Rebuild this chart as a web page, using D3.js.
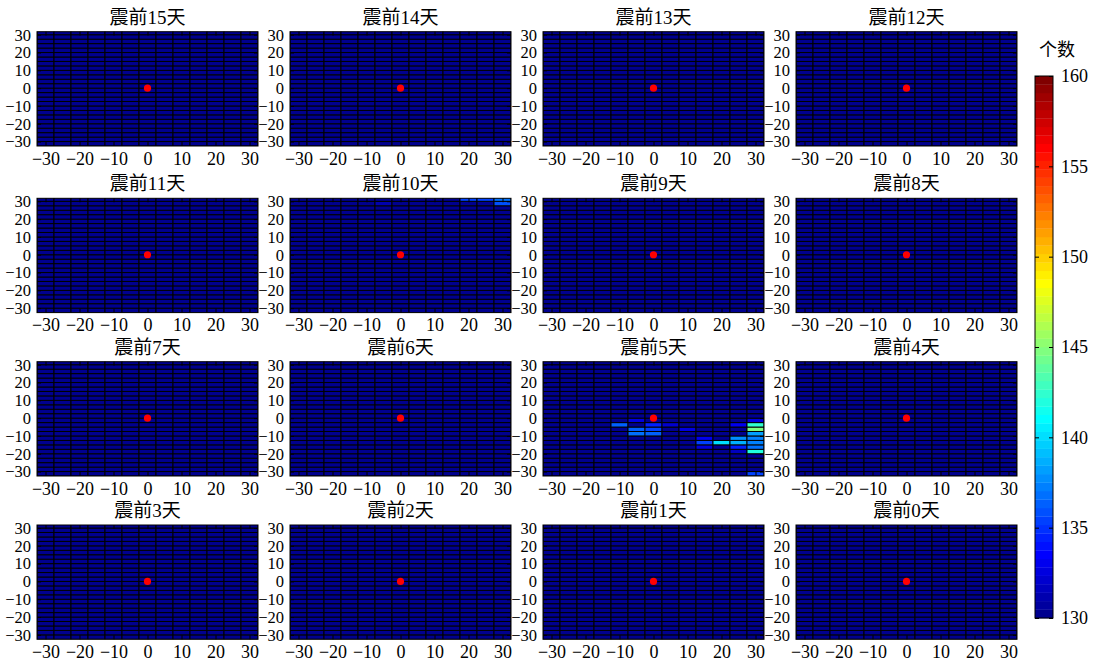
<!DOCTYPE html>
<html>
<head>
<meta charset="utf-8">
<script src="https://cdn.jsdelivr.net/npm/d3@7"></script>
<style>
  html, body { margin: 0; padding: 0; background: #fff; }
  svg { display: block; }
</style>
</head>
<body>
<svg id="chart" width="1099" height="663"></svg>
<script>
// ---------------- data ----------------
const panelTitles = ["震前15天","震前14天","震前13天","震前12天",
                     "震前11天","震前10天","震前9天","震前8天",
                     "震前7天","震前6天","震前5天","震前4天",
                     "震前3天","震前2天","震前1天","震前0天"];
const xCells = [-30,-25,-20,-15,-10,-5,0,5,10,15,20,25,30];
const yCells = [-31.25,-28.75,-26.25,-23.75,-21.25,-18.75,-16.25,-13.75,-11.25,-8.75,
                -6.25,-3.75,-1.25,1.25,3.75,6.25,8.75,11.25,13.75,16.25,
                18.75,21.25,23.75,26.25,28.75,31.25];
const axisTicks = [-30,-20,-10,0,10,20,30];
const colorTicks = [130,135,140,145,150,155,160];
const baseCount = 130.3;           // background count in every cell
// cells that differ from the background: [x, y, count]
const day10Cells = [[20,31.25,135.2],[25,31.25,135.2],[30,31.25,137.0],
                    [30,28.75,136.0],[-5,28.75,131.3]];
const day5Cells = [[-5,-1.25,132.7],[30,-1.25,132.8],
                   [-10,-3.75,136.2],[0,-3.75,134.6],[5,-3.75,132.3],[25,-3.75,133.0],[30,-3.75,142.6],
                   [-5,-6.25,136.1],[0,-6.25,135.5],[10,-6.25,132.7],[30,-6.25,144.8],
                   [-5,-8.75,136.7],[0,-8.75,136.4],[30,-8.75,138.2],
                   [15,-11.25,133.2],[25,-11.25,137.9],[30,-11.25,137.3],
                   [15,-13.75,135.5],[20,-13.75,140.2],[25,-13.75,138.5],[30,-13.75,137.3],
                   [15,-16.25,132.4],[25,-16.25,134.6],[30,-16.25,137.0],
                   [25,-18.75,131.5],[30,-18.75,142.1],
                   [30,-31.25,135.2]];
const specialCells = { "震前10天": day10Cells, "震前5天": day5Cells };
const epicenter = [0, 0];

// ---------------- colormap (MATLAB jet, 64 levels) ----------------
const vMin = 130, vMax = 160, nLev = 64;
function jetColor(i) {
  const x = (i + 1) / nLev;
  const c = v => Math.round(255 * Math.max(0, Math.min(1, v)));
  return `rgb(${c(1.5 - Math.abs(4*x - 3))},${c(1.5 - Math.abs(4*x - 2))},${c(1.5 - Math.abs(4*x - 1))})`;
}
function valueColor(v) {
  let i = Math.floor((v - vMin) / (vMax - vMin) * nLev);
  i = Math.max(0, Math.min(nLev - 1, i));
  return jetColor(i);
}

const FONT = '"Liberation Serif", "Times New Roman", "DejaVu Serif", serif';
const CJKFONT = '"Liberation Serif", "Noto Sans CJK SC", serif';

// ---------------- layout ----------------
const svg = d3.select("#chart");
const colLeft = [37, 290, 543, 796];
const rowTop = [31.7, 198.3, 361.7, 525];
const pw = 221, ph = 114.3;

panelTitles.forEach((title, k) => {
  const r = Math.floor(k / 4), c = k % 4;
  const L = colLeft[c], T = rowTop[r];
  const xs = d3.scaleLinear().domain([-32.5, 32.5]).range([L, L + pw]);
  const ys = d3.scaleLinear().domain([-32.5, 31.7]).range([T + ph, T]);

  const extra = specialCells[title] || [];
  const cells = [];
  xCells.forEach(x => yCells.forEach(y => {
    const e = extra.find(d => d[0] === x && d[1] === y);
    cells.push({x, y, v: e ? e[2] : baseCount});
  }));

  const clipId = "clip" + k;
  svg.append("clipPath").attr("id", clipId)
    .append("rect").attr("x", L).attr("y", T).attr("width", pw).attr("height", ph);

  const g = svg.append("g");
  g.append("g").attr("clip-path", `url(#${clipId})`)
    .selectAll("rect").data(cells).join("rect")
    .attr("x", d => xs(d.x - 2.5))
    .attr("y", d => ys(d.y + 1.25))
    .attr("width", d => xs(d.x + 2.5) - xs(d.x - 2.5))
    .attr("height", d => ys(d.y - 1.25) - ys(d.y + 1.25))
    .attr("fill", d => valueColor(d.v))
    .attr("stroke", "#000")
    .attr("stroke-width", 1);

  g.append("circle")
    .attr("cx", xs(epicenter[0])).attr("cy", ys(epicenter[1]))
    .attr("r", 3.6).attr("fill", "#ff0000");

  // axes (ticks inward, MATLAB style)
  const ax = g.append("g").attr("transform", `translate(0,${T + ph})`)
    .call(d3.axisBottom(xs).tickValues(axisTicks).tickSizeInner(-4).tickSizeOuter(0).tickPadding(6));
  ax.selectAll("text").style("font-size", "18px").style("font-family", FONT).attr("dy", "0.71em");
  const ay = g.append("g").attr("transform", `translate(${L},0)`)
    .call(d3.axisLeft(ys).tickValues(axisTicks).tickSizeInner(-4).tickSizeOuter(0).tickPadding(6));
  ay.selectAll("text").style("font-size", "16.5px").style("font-family", FONT);
  g.append("g").attr("transform", `translate(0,${T})`)
    .call(d3.axisTop(xs).tickValues(axisTicks).tickSizeInner(-4).tickSizeOuter(0).tickFormat(""));
  g.append("g").attr("transform", `translate(${L + pw},0)`)
    .call(d3.axisRight(ys).tickValues(axisTicks).tickSizeInner(-4).tickSizeOuter(0).tickFormat(""));
  g.selectAll(".domain").remove();
  g.selectAll(".tick line").attr("stroke", "#000");

  g.append("rect").attr("x", L).attr("y", T).attr("width", pw).attr("height", ph)
    .attr("fill", "none").attr("stroke", "#000").attr("stroke-width", 1);

  g.append("text").attr("x", L + pw / 2).attr("y", T - 8)
    .attr("text-anchor", "middle").style("font-size", "19px").style("font-family", CJKFONT)
    .text(title);
});

// ---------------- colorbar ----------------
const cbL = 1035, cbW = 18, cbTop = 76, cbBot = 618;
const cs = d3.scaleLinear().domain([vMin, vMax]).range([cbBot, cbTop]);
const cb = svg.append("g");
cb.selectAll("rect.lev").data(d3.range(nLev)).join("rect")
  .attr("class", "lev")
  .attr("x", cbL).attr("width", cbW)
  .attr("y", i => cs(vMin + (i + 1) * (vMax - vMin) / nLev))
  .attr("height", i => cs(vMin + i * (vMax - vMin) / nLev) - cs(vMin + (i + 1) * (vMax - vMin) / nLev) + 0.3)
  .attr("fill", i => jetColor(i));
const cbr = cb.append("g").attr("transform", `translate(${cbL + cbW},0)`)
  .call(d3.axisRight(cs).tickValues(colorTicks).tickSizeInner(-4).tickSizeOuter(0).tickPadding(8).tickFormat(d3.format("d")));
cbr.selectAll("text").style("font-size", "18px").style("font-family", FONT);
cb.append("g").attr("transform", `translate(${cbL},0)`)
  .call(d3.axisLeft(cs).tickValues(colorTicks).tickSizeInner(-4).tickSizeOuter(0).tickFormat(""));
cb.selectAll(".domain").remove();
cb.selectAll(".tick line").attr("stroke", "#000");
cb.append("rect").attr("x", cbL).attr("y", cbTop).attr("width", cbW).attr("height", cbBot - cbTop)
  .attr("fill", "none").attr("stroke", "#000").attr("stroke-width", 1);
cb.append("text").attr("x", 1057).attr("y", 56).attr("text-anchor", "middle")
  .style("font-size", "18px").style("font-family", CJKFONT).text("个数");
</script>
</body>
</html>
